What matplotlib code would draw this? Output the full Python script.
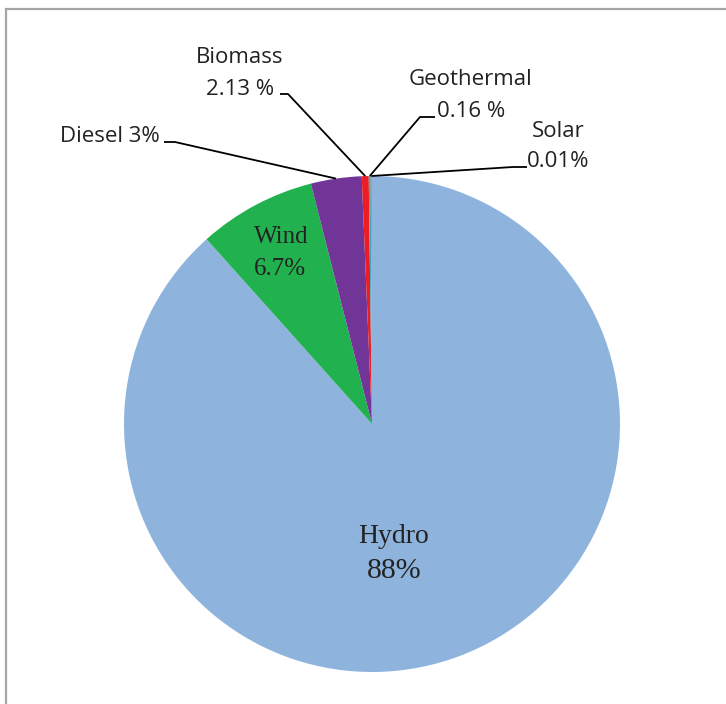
import numpy as np
import matplotlib
matplotlib.use("Agg")
import matplotlib.pyplot as plt
from matplotlib.patches import Rectangle

# wedge sizes as drawn (clockwise from the top) and the printed labels
sources = ["Hydro", "Wind", "Diesel", "Biomass", "Geothermal", "Solar"]
shares = [88.3, 7.65, 3.3, 0.45, 0.13, 0.08]
labels = ["88%", "6.7%", "3%", "2.13 %", "0.16 %", "0.01%"]
colors = ["#8EB4DE", "#22B14F", "#703597", "#EE1C25", "#3FA7B8", "#F08A3C"]

W, H = 726, 704
fig = plt.figure(figsize=(W / 100, H / 100), dpi=100)
ax = fig.add_axes([0, 0, 1, 1])
ax.set_xlim(0, W)
ax.set_ylim(0, H)
ax.set_aspect("equal")
ax.axis("off")

def py(y):
    # pixel row (from top) -> data y
    return H - y

cx, cy, r = 372, py(424), 248
wedges, _ = ax.pie(shares, colors=colors, startangle=90, counterclock=False,
                   center=(cx, cy), radius=r, wedgeprops=dict(linewidth=0))
ax.set_xlim(0, W)
ax.set_ylim(0, H)

# frame of the chart area
ax.add_patch(Rectangle((6, -20), W + 20, py(9) + 20, fill=False,
                       edgecolor="#A6A6A6", linewidth=1.6))

serif = ["Liberation Serif", "DejaVu Serif"]
sans = ["Open Sans", "DejaVu Sans"]
dark = "#222222"

# labels inside the big wedges
ax.text(394, py(543), sources[0], family=serif, fontsize=20, color=dark,
        ha="center", va="baseline")
ax.text(394, py(578), labels[0], family=serif, fontsize=21.5, color=dark,
        ha="center", va="baseline")
ax.text(281, py(243), sources[1], family=serif, fontsize=18, color=dark,
        ha="center", va="baseline")
ax.text(280, py(275), labels[1], family=serif, fontsize=18, color=dark,
        ha="center", va="baseline")

def edge_point(w):
    a = np.deg2rad((w.theta1 + w.theta2) / 2)
    return cx + r * np.cos(a), cy + r * np.sin(a)

# outside labels: (text lines, anchor x, baselines, ha, elbow start, elbow end)
callouts = [
    (2, ["Diesel " + labels[2]], 160, [142], "right", (164, 142), (175, 142)),
    (3, [sources[3], labels[3]], 240, [63, 95], "center", (280, 94), (288, 94)),
    (4, [sources[4], labels[4]], 471, [85, 117], "center", (435, 117), (420, 117)),
    (5, [sources[5], labels[5]], 558, [137, 167], "center", (527, 167), (513, 167)),
]
for i, lines, tx, bases, ha, e0, e1 in callouts:
    for s, b in zip(lines, bases):
        ax.text(tx, py(b), s, family=sans, fontsize=16, color=dark,
                ha=ha, va="baseline")
    ex, ey = edge_point(wedges[i])
    ax.plot([e0[0], e1[0], ex], [py(e0[1]), py(e1[1]), ey],
            color="black", linewidth=1.3, solid_capstyle="butt")

fig.savefig("out.png", dpi=100)
